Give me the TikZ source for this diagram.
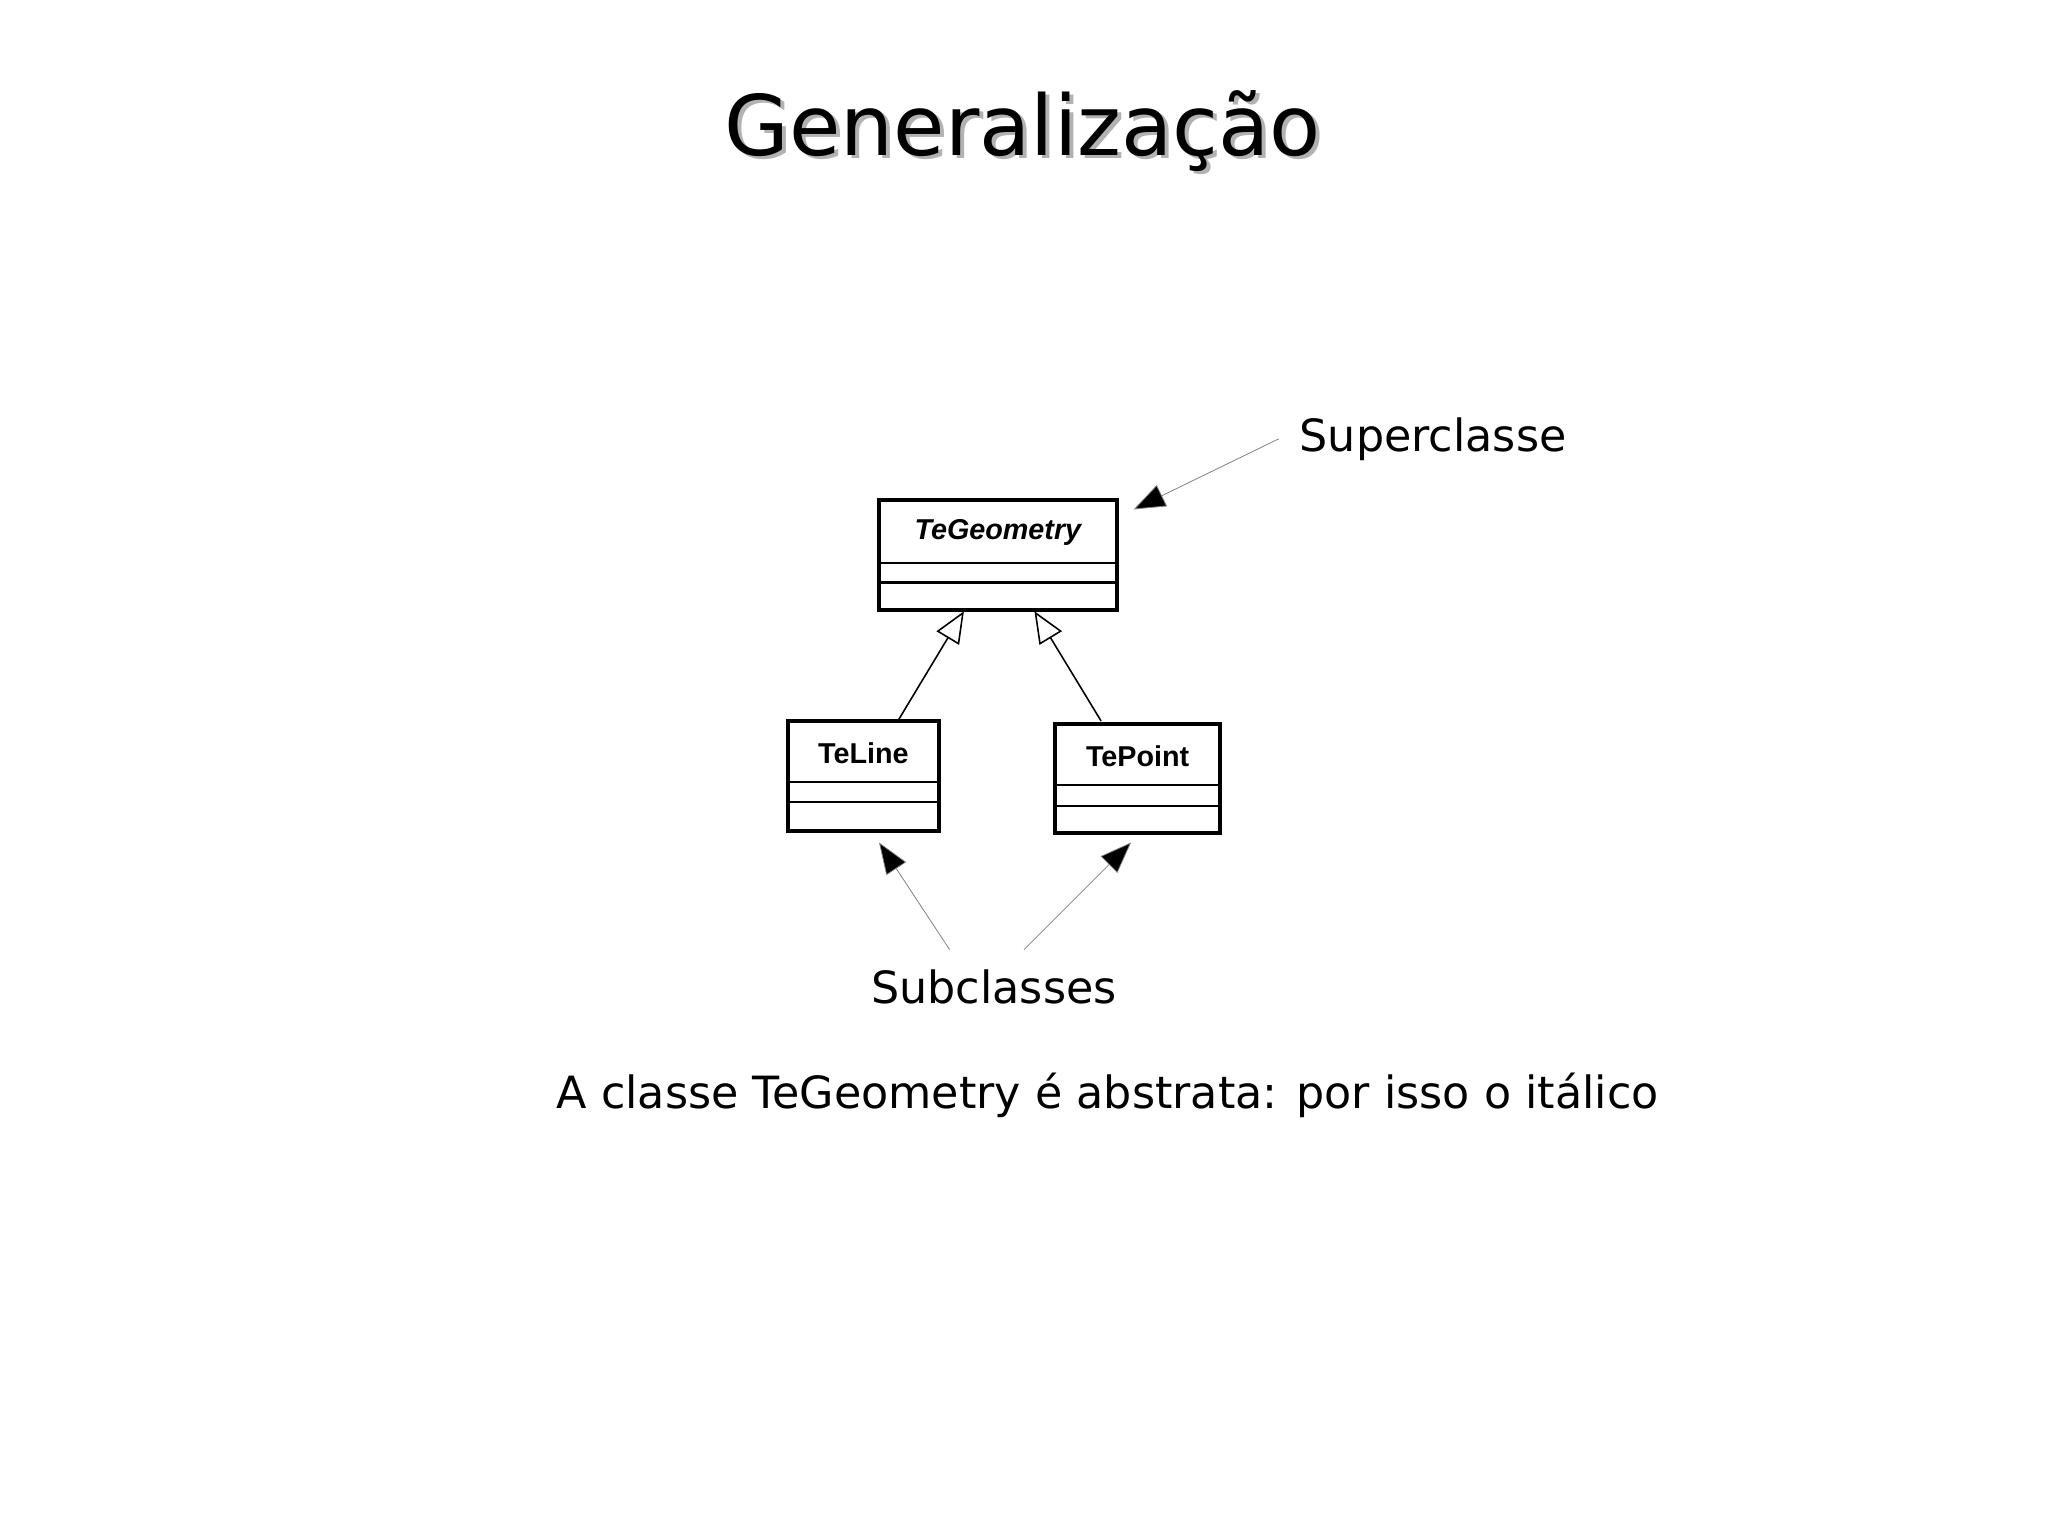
\documentclass[tikz,border=0pt]{standalone}
\usepackage{fontspec}
\setmainfont{DejaVu Sans}
\newfontfamily\umlfont{Liberation Sans}
\usetikzlibrary{arrows.meta}
\begin{document}
\begin{tikzpicture}[x=0.5pt,y=-0.5pt,
  cls/.style={draw,line width=1.5pt},
  div/.style={line width=0.8pt},
  gen/.style={line width=0.6pt,-{Triangle[open,length=12pt,width=10pt]}},
  ptr/.style={line width=0.3pt,draw=gray,-{Triangle[length=12pt,width=9pt,fill=black]}},
  lbl/.style={font=\fontsize{17}{20}\selectfont,anchor=west}]
\useasboundingbox (0,0) rectangle (1568,1176);
\node[text=gray!60,font=\fontsize{32}{38}\selectfont] at (786,103) {Generalização};
\node (title) [font=\fontsize{32}{38}\selectfont] at (783,100) {Generalização};
% classes
\draw[cls] (673,383) rectangle (855,467);
\draw[div] (673,431) -- (855,431) (673,446) -- (855,446);
\node (geo) [font=\umlfont\bfseries\itshape\fontsize{11}{13}\selectfont] at (764,408) {TeGeometry};
\coordinate (gl) at (738,468); \coordinate (gr) at (792,468); \coordinate (gtop) at (868,390);
\draw[cls] (603,552) rectangle (719,636);
\draw[div] (603,599) -- (719,599) (603,614) -- (719,614);
\node (line) [font=\umlfont\bfseries\fontsize{11}{13}\selectfont] at (661,577) {TeLine};
\coordinate (lt) at (688,551); \coordinate (lb) at (673,645);
\draw[cls] (808,554) rectangle (934,638);
\draw[div] (808,601) -- (934,601) (808,617) -- (934,617);
\node (pt) [font=\umlfont\bfseries\fontsize{11}{13}\selectfont] at (871,579) {TePoint};
\coordinate (pt1) at (843,552); \coordinate (pb) at (866,645);
\draw[gen] (lt) -- (gl);
\draw[gen] (pt1) -- (gr);
% labels
\node (sup) [lbl] at (988,336) {Superclasse};
\node (sub) [font=\fontsize{17}{20}\selectfont] at (761,756) {Subclasses};
\coordinate (s1) at (727,727); \coordinate (s2) at (784,727); \coordinate (sp) at (979,336);
\draw[ptr] (sp) -- (gtop);
\draw[ptr] (s1) -- (lb);
\draw[ptr] (s2) -- (pb);
\node (note) [font=\fontsize{17}{20}\selectfont] at (848,839) {A classe TeGeometry é abstrata: por isso o itálico};
\end{tikzpicture}
\end{document}
